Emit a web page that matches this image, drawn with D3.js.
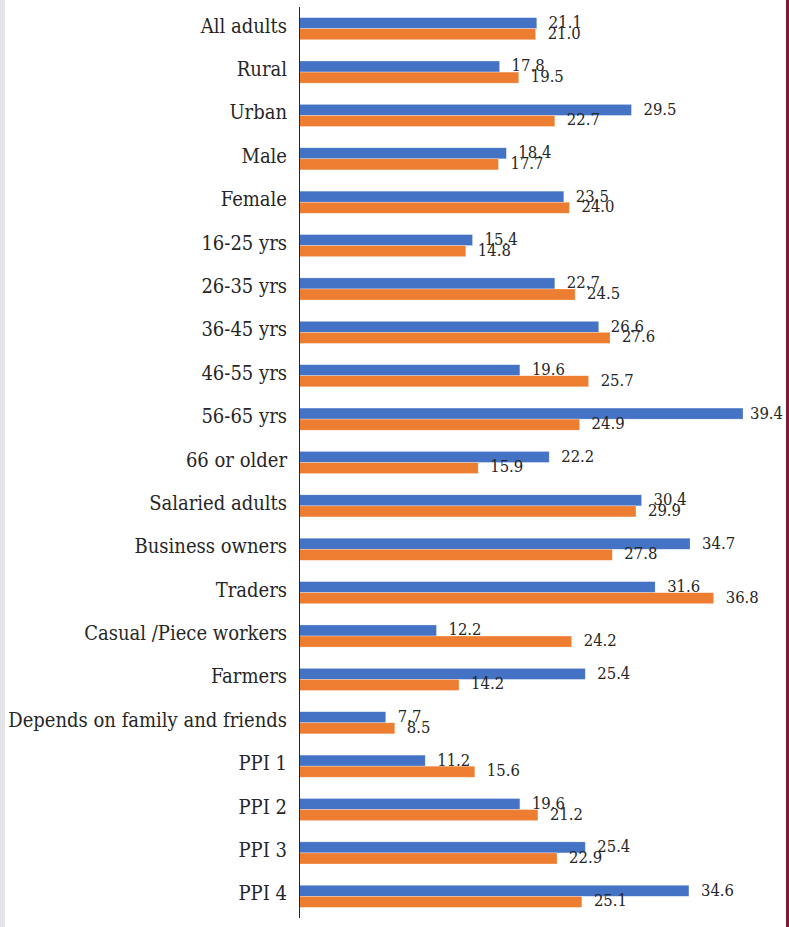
<!DOCTYPE html>
<html>
<head>
<meta charset="utf-8">
<script src="https://cdn.jsdelivr.net/npm/d3@7"></script>
<style>
  html, body { margin: 0; padding: 0; background: #fff; }
  svg { display: block; }
  .serif { font-family: 'DejaVu Serif', serif; font-stretch: condensed; }
</style>
</head>
<body>
<svg id="chart" width="789" height="927"></svg>
<script>
// Categories, top to bottom
const categories = [
  "All adults", "Rural", "Urban", "Male", "Female",
  "16-25 yrs", "26-35 yrs", "36-45 yrs", "46-55 yrs", "56-65 yrs", "66 or older",
  "Salaried adults", "Business owners", "Traders", "Casual /Piece workers", "Farmers",
  "Depends on family and friends", "PPI 1", "PPI 2", "PPI 3", "PPI 4"
];
// First series (blue)
const seriesA = [21.1, 17.8, 29.5, 18.4, 23.5, 15.4, 22.7, 26.6, 19.6, 39.4, 22.2,
                 30.4, 34.7, 31.6, 12.2, 25.4, 7.7, 11.2, 19.6, 25.4, 34.6];
// Second series (orange)
const seriesB = [21.0, 19.5, 22.7, 17.7, 24.0, 14.8, 24.5, 27.6, 25.7, 24.9, 15.9,
                 29.9, 27.8, 36.8, 24.2, 14.2, 8.5, 15.6, 21.2, 22.9, 25.1];

const seriesColors = ["#4472C4", "#ED7D31"];

const svg = d3.select("#chart");
const W = 789, H = 927;

// page frame: grey strip at left, dark red rule at right
svg.append("rect").attr("x", 0).attr("y", 0).attr("width", 5).attr("height", H).attr("fill", "#e4e5e8");
svg.append("rect").attr("x", 786).attr("y", 0).attr("width", 3).attr("height", H).attr("fill", "#7a1f30");

const x0 = 299;
const x = d3.scaleLinear().domain([0, 40]).range([x0, x0 + 450.8]);
const y = d3.scaleBand().domain(categories).range([7, 918]).paddingInner(0.49).paddingOuter(0.245);
const sub = d3.scaleBand().domain([0, 1]).range([0, y.bandwidth()]);

const rows = categories.map((c, i) => ({ c, v: [seriesA[i], seriesB[i]] }));

const rowG = svg.append("g").selectAll("g.row").data(rows).join("g")
  .attr("class", "row")
  .attr("transform", d => `translate(0,${y(d.c)})`);

rowG.selectAll("rect").data(d => d.v.map((v, k) => ({ v, k }))).join("rect")
  .attr("x", x(0))
  .attr("y", d => sub(d.k))
  .attr("width", d => x(d.v) - x(0))
  .attr("height", sub.bandwidth())
  .attr("fill", d => seriesColors[d.k])
  .attr("stroke", "#ffffff")
  .attr("stroke-opacity", 0.5)
  .attr("stroke-width", 0.6);

// value labels, kept inside the right edge of the plot
const rightLimit = 783;
rowG.selectAll("text.val").data(d => d.v.map((v, k) => ({ v, k }))).join("text")
  .attr("class", "val serif")
  .attr("x", d => x(d.v) + 12)
  .attr("y", d => sub(d.k) + sub.bandwidth() / 2 + (d.k === 0 ? -1 : -1.5))
  .attr("dy", "0.36em")
  .attr("font-size", 16.5)
  .attr("fill", "#262626")
  .text(d => d3.format(".1f")(d.v))
  .each(function () {
    const t = d3.select(this);
    const w = this.getComputedTextLength();
    const xs = +t.attr("x");
    if (xs + w > rightLimit) t.attr("x", rightLimit - w);
  });

// category axis
const yAxis = d3.axisLeft(y).tickSize(0).tickPadding(12);
const ax = svg.append("g").attr("transform", `translate(${x0},0)`).call(yAxis);
ax.attr("font-family", null).attr("font-size", null);
ax.select(".domain").attr("stroke", "#262626").attr("stroke-width", 1)
  .attr("d", `M0.5,7V918`);
ax.selectAll(".tick text")
  .attr("class", "serif")
  .attr("font-size", 20)
  .attr("fill", "#262626")
  .attr("y", -3)
  .attr("dy", "0.35em");
</script>
</body>
</html>
